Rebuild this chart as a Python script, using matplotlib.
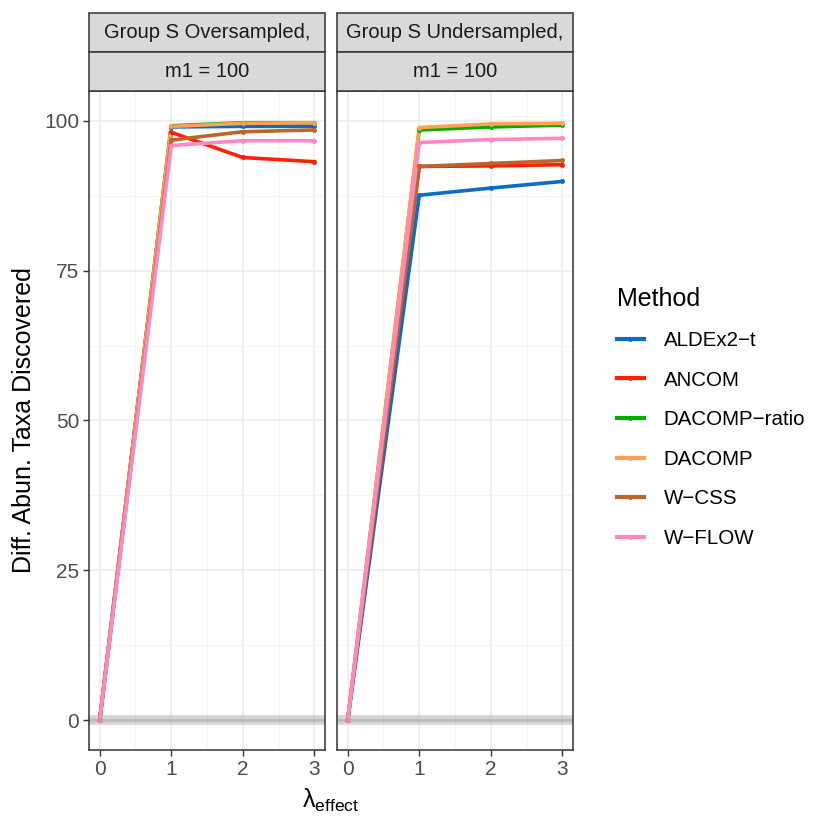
import matplotlib
matplotlib.use("Agg")
import matplotlib.pyplot as plt
from matplotlib.lines import Line2D
from matplotlib.patches import Rectangle

plt.rcParams["font.family"] = ["Liberation Sans", "DejaVu Sans"]
plt.rcParams["mathtext.fontset"] = "custom"
plt.rcParams["mathtext.rm"] = "Liberation Sans"
plt.rcParams["mathtext.it"] = "Liberation Sans:italic"

# ----- data -----
lam = [0, 1, 2, 3]
methods = ["ALDEx2\u2212t", "ANCOM", "DACOMP\u2212ratio", "DACOMP", "W\u2212CSS", "W\u2212FLOW"]
colors = ["#0A6BC8", "#FF2000", "#00AD00", "#FFA055", "#BE632A", "#FF88C4"]

over = {
    "ALDEx2\u2212t": [0, 99.0, 99.1, 99.1],
    "ANCOM": [0, 98.1, 93.9, 93.2],
    "DACOMP\u2212ratio": [0, 99.2, 99.7, 99.7],
    "DACOMP": [0, 99.1, 99.6, 99.7],
    "W\u2212CSS": [0, 96.8, 98.2, 98.5],
    "W\u2212FLOW": [0, 95.9, 96.7, 96.7],
}
under = {
    "ALDEx2\u2212t": [0, 87.6, 88.8, 89.9],
    "ANCOM": [0, 92.4, 92.5, 92.7],
    "DACOMP\u2212ratio": [0, 98.5, 99.0, 99.3],
    "DACOMP": [0, 98.9, 99.5, 99.6],
    "W\u2212CSS": [0, 92.4, 92.9, 93.4],
    "W\u2212FLOW": [0, 96.4, 96.9, 97.1],
}
panels = [("Group S Oversampled,", "m1 = 100", over),
          ("Group S Undersampled,", "m1 = 100", under)]

W, H = 830, 830
fig = plt.figure(figsize=(8.3, 8.3), dpi=100)

lefts = [89, 337]
pw = 236
top, bottom = 91, 750
strip_h = 39

for i, (s1, s2, data) in enumerate(panels):
    ax = fig.add_axes([lefts[i] / W, (H - bottom) / H, pw / W, (bottom - top) / H])
    ax.set_xlim(-0.15, 3.15)
    ax.set_ylim(-5, 105)
    ax.set_xticks([0, 1, 2, 3])
    ax.set_xticks([0.5, 1.5, 2.5], minor=True)
    ax.set_yticks([0, 25, 50, 75, 100])
    ax.set_yticks([12.5, 37.5, 62.5, 87.5], minor=True)
    ax.grid(True, which="major", color="#EBEBEB", lw=1.1)
    ax.grid(True, which="minor", color="#F3F3F3", lw=0.6)
    ax.set_axisbelow(True)
    ax.axhline(0, color="#999999", lw=7, alpha=0.4, zorder=1)
    ax.axhline(0, color="#999999", lw=2.5, alpha=0.3, zorder=1)
    for m, c in zip(methods, colors):
        ax.plot(lam, data[m], "-", color=c, lw=2.6, zorder=2)
    for m, c in zip(methods, colors):
        ax.plot(lam, data[m], "o", color=c, ms=3.5, mew=0, zorder=3)
    for sp in ax.spines.values():
        sp.set_color("#333333")
        sp.set_linewidth(1.1)
    ax.tick_params(which="major", length=4, width=1, color="#333333",
                   labelsize=15, labelcolor="#4D4D4D", pad=3)
    ax.tick_params(which="minor", length=0)
    if i == 0:
        ax.set_ylabel("Diff. Abun. Taxa Discovered", fontsize=18, labelpad=6)
    else:
        ax.set_yticklabels([])
        ax.tick_params(axis="y", length=0)

    # strips (first label on top)
    for k, txt in enumerate([s1, s2]):
        y0 = top - strip_h * (2 - k)
        r = Rectangle((lefts[i] / W, (H - y0 - strip_h) / H), pw / W, strip_h / H,
                      transform=fig.transFigure, facecolor="#D9D9D9",
                      edgecolor="#333333", lw=1.1)
        fig.patches.append(r)
        fig.text((lefts[i] + pw / 2) / W, (H - y0 - strip_h / 2) / H, txt,
                 ha="center", va="center", fontsize=14.5, color="#1A1A1A")

fig.text((89 + 572) / 2 / W, (H - 800) / H, r"$\mathregular{\lambda_{effect}}$",
         ha="center", va="center", fontsize=18)

handles = [Line2D([0], [0], color=c, lw=3, marker="o", ms=3.5, mew=0) for c in colors]
leg = fig.legend(handles, methods, title="Method", loc="upper left",
                 bbox_to_anchor=(598 / W, (H - 268) / H), frameon=False,
                 fontsize=14.8, title_fontsize=18, handlelength=1.35,
                 labelspacing=1.0, handletextpad=0.95)
leg._legend_box.align = "left"

fig.savefig("out.png", dpi=100)
